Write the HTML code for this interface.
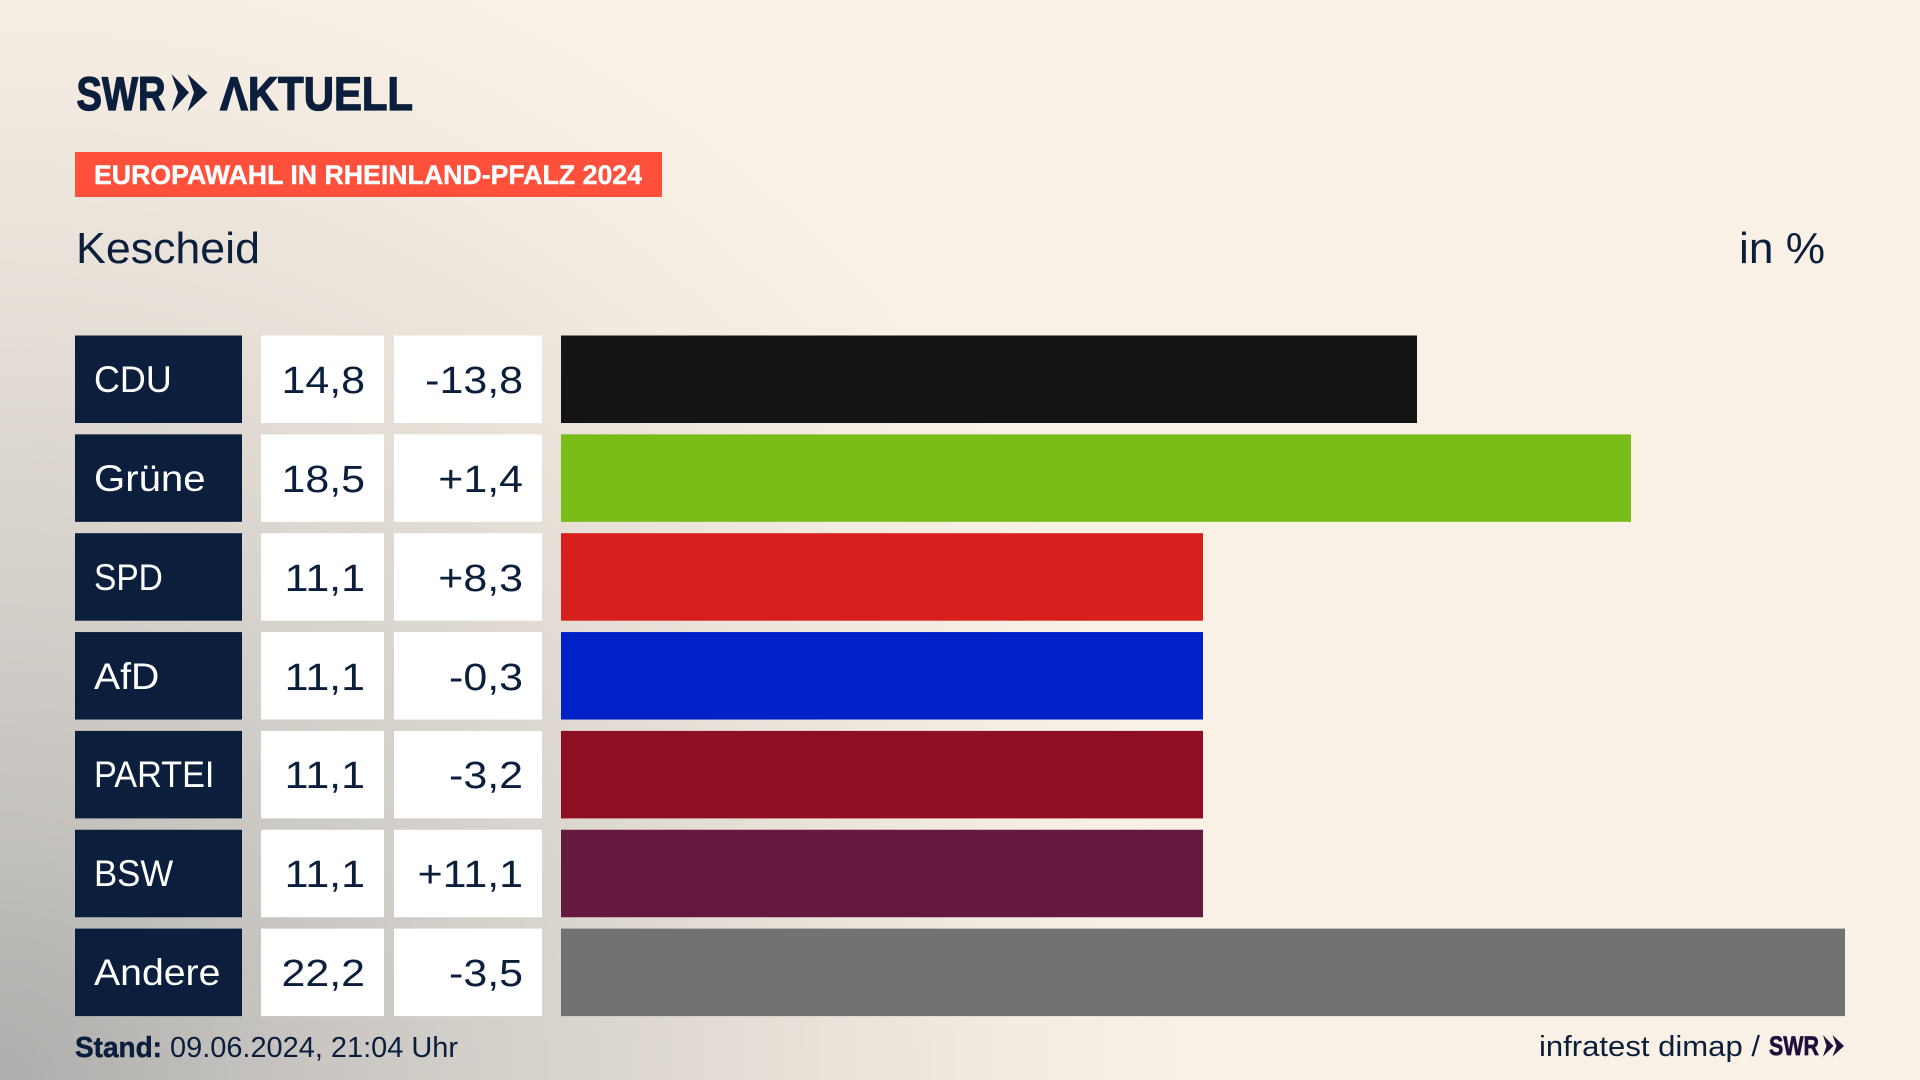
<!DOCTYPE html>
<html lang="de">
<head>
<meta charset="utf-8">
<title>Europawahl in Rheinland-Pfalz 2024 – Kescheid</title>
<style>
  html, body { margin: 0; padding: 0; width: 1920px; height: 1080px; overflow: hidden; background: #faf1e6; }
  #stage {
    position: absolute; left: 0; top: 0; width: 1920px; height: 1080px;
    background: radial-gradient(circle 1230px at 0px 1080px, #adadab 0, #c8c5c1 300px, #e2dcd4 720px, #f3ebe1 1000px, #faf1e6 1200px);
  }
  svg { position: absolute; left: 0; top: 0; }
  text { font-family: "Liberation Sans", "DejaVu Sans", sans-serif; fill: #0b1f3d; }
  .bold { font-weight: 700; }
  .heavy { stroke: #0b1f3d; stroke-width: 1.3px; }
  .name-box { fill: #0b1f3d; }
  .cell-box { fill: #ffffff; }
  .name-text { fill: #ffffff; font-size: 37px; }
  .num-text { font-size: 38px; transform: scaleX(1.13); }
  .name-0 { transform: scaleX(.97); }
  .name-1 { transform: scaleX(1.085); }
  .name-2 { transform: scaleX(.905); }
  .name-3 { transform: scaleX(1.06); }
  .name-4 { transform: scaleX(.925); }
  .name-5 { transform: scaleX(.94); }
  .name-6 { transform: scaleX(1.06); }
  .bar-0 { fill: #141414; }
  .bar-1 { fill: #79bd19; }
  .bar-2 { fill: #d7201e; }
  .bar-3 { fill: #0021c8; }
  .bar-4 { fill: #8f0f22; }
  .bar-5 { fill: #66193f; }
  .bar-6 { fill: #707274; }
</style>
</head>
<body>
<div id="stage">
<svg id="chart" width="1920" height="1080" viewBox="0 0 1920 1080" xmlns="http://www.w3.org/2000/svg">
  <g>
    <text class="bold heavy" x="76.5" y="110" font-size="47" textLength="89" lengthAdjust="spacingAndGlyphs">SWR</text>
    <polygon points="171.5,74 189,92.5 171.5,111.5 178,92.5" fill="#0b1f3d"/>
    <polygon points="187.5,74 207.5,92.5 187.5,111.5 194,92.5" fill="#0b1f3d"/>
    <text class="bold heavy" x="220" y="110" font-size="47" textLength="193" lengthAdjust="spacingAndGlyphs" aria-label="AKTUELL">ΛKTUELL</text>
  </g>
  <rect x="75" y="152" width="587" height="45" fill="#ff503c"/>
  <text class="bold" x="94" y="184" font-size="26.5" textLength="548" lengthAdjust="spacingAndGlyphs" style="fill:#fff;stroke:#fff;stroke-width:.4px">EUROPAWAHL IN RHEINLAND-PFALZ 2024</text>
  <text x="76" y="263" font-size="44" textLength="184" lengthAdjust="spacingAndGlyphs">Kescheid</text>
  <text x="1739" y="263" font-size="44" textLength="86" lengthAdjust="spacingAndGlyphs">in %</text>
  <g id="rows"></g>
  <text class="bold" x="75" y="1057" font-size="28.5" textLength="87" lengthAdjust="spacingAndGlyphs" style="stroke:#0b1f3d;stroke-width:.5px">Stand:</text>
  <text x="170" y="1057" font-size="28.5" textLength="288" lengthAdjust="spacingAndGlyphs">09.06.2024, 21:04 Uhr</text>
  <text x="1539" y="1056" font-size="29" textLength="221" lengthAdjust="spacingAndGlyphs">infratest dimap /</text>
  <g>
    <text class="bold" x="1769" y="1055" font-size="27" textLength="50" lengthAdjust="spacingAndGlyphs" style="fill:#1e0f3c;stroke:#1e0f3c;stroke-width:.7px">SWR</text>
    <polygon points="1823,1035 1833.5,1046 1823,1056.5 1826.5,1046" fill="#1e0f3c"/>
    <polygon points="1832.5,1035 1844,1046 1832.5,1056.5 1836.5,1046" fill="#1e0f3c"/>
  </g>
</svg>
</div>
<script>
const categories = ["CDU", "Grüne", "SPD", "AfD", "PARTEI", "BSW", "Andere"];
const shares = [14.8, 18.5, 11.1, 11.1, 11.1, 11.1, 22.2];
const changes = [-13.8, 1.4, 8.3, -0.3, -3.2, 11.1, -3.5];
const maxShare = 22.2;

const NS = "http://www.w3.org/2000/svg";
const plot = { x0: 561, x1: 1845, y0: 335.5, pitch: 98.85, rowH: 87.5 };

function xScale(v) { return plot.x0 + (v / maxShare) * (plot.x1 - plot.x0); }
function yScale(i) { return plot.y0 + i * plot.pitch; }
function fmtShare(v) { return v.toFixed(1).replace(".", ","); }
function fmtChange(v) { return (v > 0 ? "+" : "") + v.toFixed(1).replace(".", ","); }

function makeRect(x, y, w, h, cls) {
  const r = document.createElementNS(NS, "rect");
  r.setAttribute("x", x);
  r.setAttribute("y", y);
  r.setAttribute("width", w);
  r.setAttribute("height", h);
  r.setAttribute("class", cls);
  return r;
}
function makeText(parent, str, x, y, cls, anchor) {
  const g = document.createElementNS(NS, "g");
  g.setAttribute("transform", "translate(" + x + "," + y + ")");
  const t = document.createElementNS(NS, "text");
  t.setAttribute("class", cls);
  t.setAttribute("text-anchor", anchor);
  t.textContent = str;
  g.appendChild(t);
  parent.appendChild(g);
  return t;
}

const rowsG = document.getElementById("rows");
categories.forEach(function (cat, i) {
  const y = yScale(i);
  const base = Math.round(y + 57.5);

  const g = document.createElementNS(NS, "g");
  
  

  const nameBox = makeRect(75, y, 167, plot.rowH, "name-box");
  
  
  g.appendChild(nameBox);

  const nameText = makeText(g, cat, 94, base - 1, "name-text name-" + i, "start");
  
  

  const valBox = makeRect(261, y, 123, plot.rowH, "cell-box");
  
  
  g.appendChild(valBox);

  const valText = makeText(g, fmtShare(shares[i]), 365, base, "num-text", "end");
  
  

  const chgBox = makeRect(394, y, 148, plot.rowH, "cell-box");
  
  
  g.appendChild(chgBox);

  const chgText = makeText(g, fmtChange(changes[i]), 523, base, "num-text", "end");
  
  

  const bar = makeRect(plot.x0, y, xScale(shares[i]) - plot.x0, plot.rowH, "bar-" + i);
  
  
  g.appendChild(bar);

  rowsG.appendChild(g);
});
</script>
</body>
</html>
